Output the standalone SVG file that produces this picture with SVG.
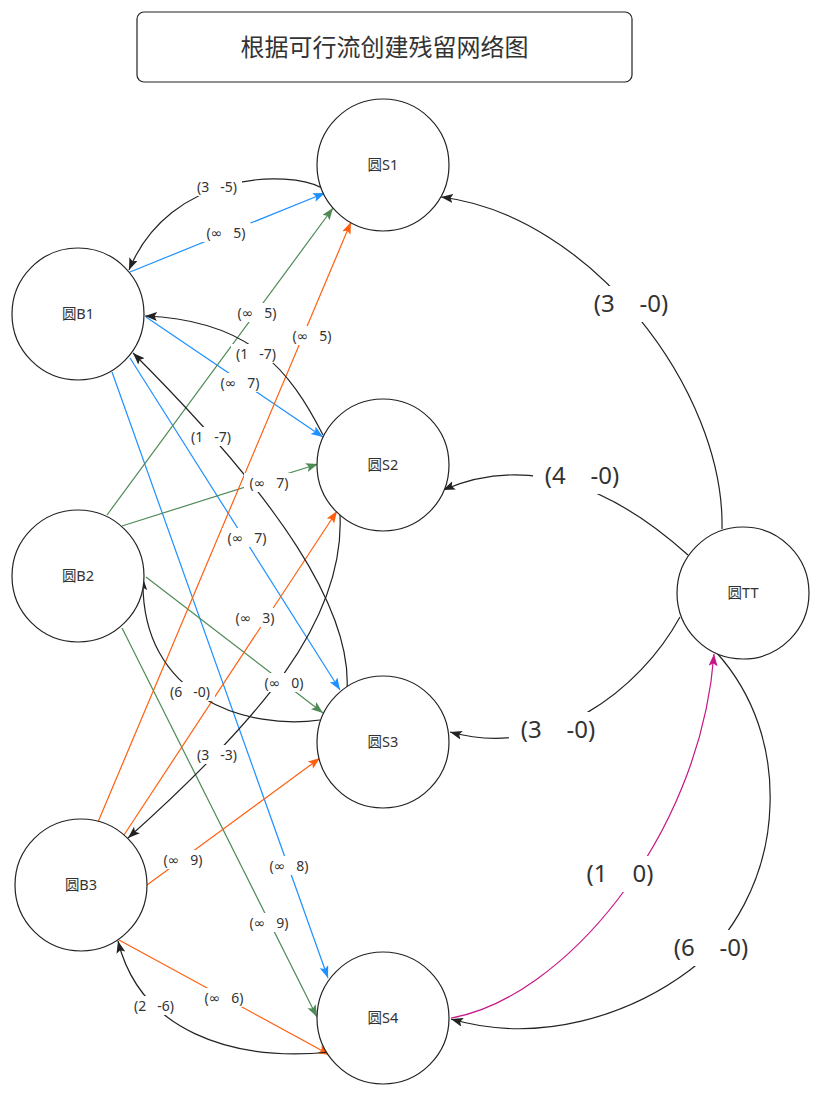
<svg xmlns="http://www.w3.org/2000/svg" width="821" height="1098" viewBox="0 0 821 1098">
<style>
.node{fill:#fff;stroke:#222;stroke-width:1.2}
.nt{font-family:"Noto Sans","Noto Sans CJK SC",sans-serif;font-size:14.5px;fill:#333;text-anchor:middle}
.e{fill:none;stroke-width:1.2}
.k{stroke:#222}.b{stroke:#1E90FF}.g{stroke:#4E8A56}.o{stroke:#FF5F0F}.m{stroke:#C71585}
.lb{fill:#fff}
.lt{font-family:"Noto Sans","DejaVu Sans",sans-serif;font-size:14px;fill:#333;text-anchor:middle}
.LT{font-family:"Noto Sans","DejaVu Sans",sans-serif;font-size:24px;fill:#333;text-anchor:middle}
</style>
<defs>
<marker id="ak" markerUnits="userSpaceOnUse" markerWidth="14" markerHeight="10" refX="12" refY="4.5" orient="auto"><path d="M0,0 L12,4.5 L0,9 L2.5,4.5 z" fill="#222"/></marker>
<marker id="ab" markerUnits="userSpaceOnUse" markerWidth="14" markerHeight="10" refX="12" refY="4.5" orient="auto"><path d="M0,0 L12,4.5 L0,9 L2.5,4.5 z" fill="#1E90FF"/></marker>
<marker id="ag" markerUnits="userSpaceOnUse" markerWidth="14" markerHeight="10" refX="12" refY="4.5" orient="auto"><path d="M0,0 L12,4.5 L0,9 L2.5,4.5 z" fill="#4E8A56"/></marker>
<marker id="ao" markerUnits="userSpaceOnUse" markerWidth="14" markerHeight="10" refX="12" refY="4.5" orient="auto"><path d="M0,0 L12,4.5 L0,9 L2.5,4.5 z" fill="#FF5F0F"/></marker>
<marker id="am" markerUnits="userSpaceOnUse" markerWidth="14" markerHeight="10" refX="12" refY="4.5" orient="auto"><path d="M0,0 L12,4.5 L0,9 L2.5,4.5 z" fill="#C71585"/></marker>
</defs>
<rect width="821" height="1098" fill="#fff"/>
<g id="title">
<rect x="137" y="12" width="495" height="70" rx="7" fill="#fff" stroke="#222" stroke-width="1.2"/>
<text x="384.5" y="56" style="font-family:'Noto Sans CJK SC','Noto Sans',sans-serif;font-size:24px;fill:#333;text-anchor:middle">根据可行流创建残留网络图</text>
</g>
<g id="connectors">
<path class="e b" d="M130,272 L325,193" marker-end="url(#ab)"/>
<path class="e b" d="M146,317 L323,437" marker-end="url(#ab)"/>
<path class="e b" d="M130,358 L340,690" marker-end="url(#ab)"/>
<path class="e b" d="M112,372 L328,978" marker-end="url(#ab)"/>
<path class="e g" d="M107,515 L333,208" marker-end="url(#ag)"/>
<path class="e g" d="M122,526 L318,464" marker-end="url(#ag)"/>
<path class="e g" d="M146,577 L323,713" marker-end="url(#ag)"/>
<path class="e g" d="M122,628 L317,1017" marker-end="url(#ag)"/>
<path class="e o" d="M98,822 L351,222" marker-end="url(#ao)"/>
<path class="e o" d="M124,835 L337,511" marker-end="url(#ao)"/>
<path class="e o" d="M147,885 L320,758" marker-end="url(#ao)"/>
<path class="e o" d="M119,940 L330,1055" marker-end="url(#ao)"/>
<path class="e k" d="M322,188 C290,170 170,170 129,270" marker-end="url(#ak)"/>
<path class="e k" d="M323,435 C290,370 250,320 145,316" marker-end="url(#ak)"/>
<path class="e k" d="M347,690 C352,610 280,500 133,353" marker-end="url(#ak)"/>
<path class="e k" d="M340,515 C345,620 260,720 128,838" marker-end="url(#ak)"/>
<path class="e k" d="M320,720 C250,730 140,700 143,578" marker-end="url(#ak)"/>
<path class="e k" d="M330,1052 C230,1062 140,1030 118,941" marker-end="url(#ak)"/>
<path class="e k" d="M722,529 C725,390 590,215 441,197" marker-end="url(#ak)"/>
<path class="e k" d="M688,555 Q560,440 443,490" marker-end="url(#ak)"/>
<path class="e k" d="M680,617 C640,690 550,760 450,732" marker-end="url(#ak)"/>
<path class="e m" d="M451,1018 C560,1000 700,840 714,654" marker-end="url(#am)"/>
<path class="e k" d="M716,652 C755,695 772,750 770,805 C768,880 730,940 690,970 C630,1015 540,1045 451,1019" marker-end="url(#ak)"/>
<g id="labels">
<rect class="lb" x="192" y="177" width="50" height="19"/><text class="lt" x="217" y="192" xml:space="preserve">(3   -5)</text>
<rect class="lb" x="201" y="223" width="50" height="19"/><text class="lt" x="226" y="238" xml:space="preserve">(∞   5)</text>
<rect class="lb" x="232" y="303" width="50" height="19"/><text class="lt" x="257" y="318" xml:space="preserve">(∞   5)</text>
<rect class="lb" x="287" y="326" width="50" height="19"/><text class="lt" x="312" y="341" xml:space="preserve">(∞   5)</text>
<rect class="lb" x="231" y="344" width="50" height="19"/><text class="lt" x="256" y="359" xml:space="preserve">(1   -7)</text>
<rect class="lb" x="215" y="373" width="50" height="19"/><text class="lt" x="240" y="388" xml:space="preserve">(∞   7)</text>
<rect class="lb" x="186" y="427" width="50" height="19"/><text class="lt" x="211" y="442" xml:space="preserve">(1   -7)</text>
<rect class="lb" x="244" y="473" width="50" height="19"/><text class="lt" x="269" y="488" xml:space="preserve">(∞   7)</text>
<rect class="lb" x="222" y="528" width="50" height="19"/><text class="lt" x="247" y="543" xml:space="preserve">(∞   7)</text>
<rect class="lb" x="230" y="608" width="50" height="19"/><text class="lt" x="255" y="623" xml:space="preserve">(∞   3)</text>
<rect class="lb" x="259" y="673" width="50" height="19"/><text class="lt" x="284" y="688" xml:space="preserve">(∞   0)</text>
<rect class="lb" x="165" y="682" width="50" height="19"/><text class="lt" x="190" y="697" xml:space="preserve">(6   -0)</text>
<rect class="lb" x="192" y="745" width="50" height="19"/><text class="lt" x="217" y="760" xml:space="preserve">(3   -3)</text>
<rect class="lb" x="158" y="850" width="50" height="19"/><text class="lt" x="183" y="865" xml:space="preserve">(∞   9)</text>
<rect class="lb" x="264" y="856" width="50" height="19"/><text class="lt" x="289" y="871" xml:space="preserve">(∞   8)</text>
<rect class="lb" x="244" y="913" width="50" height="19"/><text class="lt" x="269" y="928" xml:space="preserve">(∞   9)</text>
<rect class="lb" x="199" y="988" width="50" height="19"/><text class="lt" x="224" y="1003" xml:space="preserve">(∞   6)</text>
<rect class="lb" x="129" y="996" width="50" height="19"/><text class="lt" x="154" y="1011" xml:space="preserve">(2   -6)</text>
<rect class="lb" x="582" y="286" width="98" height="36"/><text class="LT" x="631" y="312" xml:space="preserve">(3    -0)</text>
<rect class="lb" x="533" y="458" width="98" height="36"/><text class="LT" x="582" y="484" xml:space="preserve">(4    -0)</text>
<rect class="lb" x="509" y="712" width="98" height="36"/><text class="LT" x="558" y="738" xml:space="preserve">(3    -0)</text>
<rect class="lb" x="576" y="856" width="88" height="36"/><text class="LT" x="620" y="882" xml:space="preserve">(1    0)</text>
<rect class="lb" x="662" y="930" width="98" height="36"/><text class="LT" x="711" y="956" xml:space="preserve">(6    -0)</text>
</g>
</g>
<g id="S1"><circle class="node" cx="383" cy="165" r="66"/><text class="nt" x="383" y="170">圆S1</text></g>
<g id="S2"><circle class="node" cx="383" cy="465" r="66"/><text class="nt" x="383" y="470">圆S2</text></g>
<g id="S3"><circle class="node" cx="383" cy="742" r="66"/><text class="nt" x="383" y="747">圆S3</text></g>
<g id="S4"><circle class="node" cx="383" cy="1018" r="66"/><text class="nt" x="383" y="1023">圆S4</text></g>
<g id="B1"><circle class="node" cx="78" cy="314" r="66"/><text class="nt" x="78" y="319">圆B1</text></g>
<g id="B2"><circle class="node" cx="78" cy="576" r="66"/><text class="nt" x="78" y="581">圆B2</text></g>
<g id="B3"><circle class="node" cx="81" cy="885" r="66"/><text class="nt" x="81" y="890">圆B3</text></g>
<g id="TT"><circle class="node" cx="743" cy="593" r="66"/><text class="nt" x="743" y="598">圆TT</text></g>
</svg>
